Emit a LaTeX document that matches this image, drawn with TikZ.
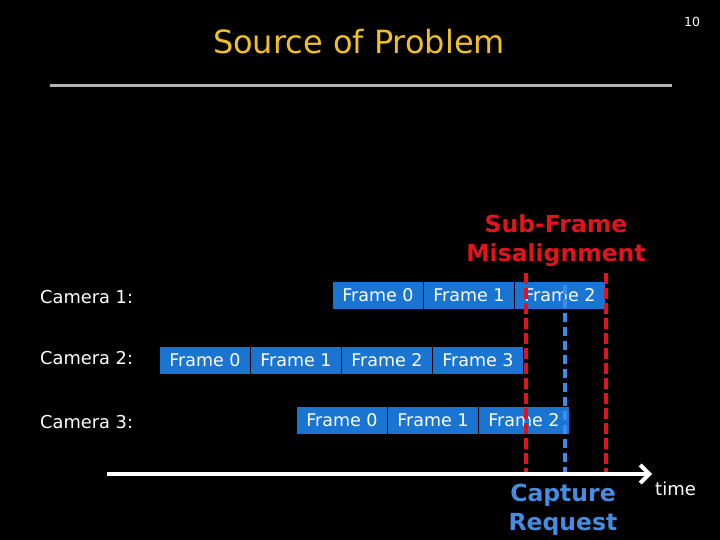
\documentclass[tikz,border=0pt]{standalone}
\usepackage{fontspec}
\setmainfont{DejaVu Sans}
\usetikzlibrary{arrows.meta}
\definecolor{titleyellow}{RGB}{240,190,40}
\definecolor{boxblue}{RGB}{26,117,210}
\definecolor{mred}{RGB}{225,20,30}
\definecolor{capblue}{RGB}{70,140,225}
\definecolor{dashblue}{RGB}{60,140,235}
\definecolor{rulegray}{RGB}{180,180,180}
\tikzset{
  frm/.style={fill=boxblue, minimum width=90pt, minimum height=27pt, inner sep=0pt, text=white, font=\fontsize{17.5}{19}\selectfont},
  camlabel/.style={anchor=west, inner sep=0pt, text=white, font=\fontsize{17.8}{19}\selectfont},
  reddash/.style={draw=mred, line width=4pt, dash pattern=on 11pt off 4pt},
  bluedash/.style={draw=dashblue, line width=4pt, dash pattern=on 9pt off 5pt},
  boldlabel/.style={align=center, inner sep=0pt, font=\fontsize{23.5}{29}\selectfont\bfseries}
}
\begin{document}
\begin{tikzpicture}[x=1pt,y=-1pt]
\useasboundingbox (0,0) rectangle (720,540);
\fill[black] (0,0) rectangle (720,540);
% title
\node[text=titleyellow, inner sep=0pt, font=\fontsize{32}{36}\selectfont] (title) at (359,42) {Source of Problem};
\node[text=white, inner sep=0pt, font=\fontsize{12.5}{14}\selectfont] (pnum) at (692,22) {10};
\coordinate (ruleL) at (50,86);
\coordinate (ruleR) at (672,86);
\draw[rulegray, line width=3pt] (ruleL) -- (ruleR);
% labels
\node[boldlabel, text=mred] (sfm) at (556,241) {Sub-Frame\\Misalignment};
\node[camlabel] (c1) at (40,297) {Camera 1:};
\node[camlabel] (c2) at (40,358) {Camera 2:};
\node[camlabel] (c3) at (40,422) {Camera 3:};
% camera 1
\node[frm] (a0) at (378,295.5) {Frame 0};
\node[frm] (a1) at (469,295.5) {Frame 1};
\node[frm] (a2) at (560,295.5) {Frame 2};
% camera 2
\node[frm] (b0) at (205,360.5) {Frame 0};
\node[frm] (b1) at (296,360.5) {Frame 1};
\node[frm] (b2) at (387,360.5) {Frame 2};
\node[frm] (b3) at (478,360.5) {Frame 3};
% camera 3
\node[frm] (d0) at (342,420.5) {Frame 0};
\node[frm] (d1) at (433,420.5) {Frame 1};
\node[frm] (d2) at (524,420.5) {Frame 2};
% time axis
\coordinate (axL) at (107,474);
\coordinate (axR) at (652,474);
\draw[white, line width=4pt, -{Straight Barb[length=9pt,width=18pt,line width=4pt]}] (axL) -- (axR);
\node[text=white, anchor=west, inner sep=0pt, font=\fontsize{18}{20}\selectfont] (time) at (655,489) {time};
% dashed lines
\coordinate (r1t) at (526,273); \coordinate (r1b) at (526,472);
\coordinate (r2t) at (606,273); \coordinate (r2b) at (606,472);
\coordinate (bt) at (565,285); \coordinate (bb) at (565,472);
\draw[reddash] (r1t) -- (r1b);
\draw[reddash] (r2t) -- (r2b);
\draw[bluedash] (bt) -- (bb);
\node[boldlabel, text=capblue] (cap) at (563,509.5) {Capture\\Request};
\end{tikzpicture}
\end{document}
